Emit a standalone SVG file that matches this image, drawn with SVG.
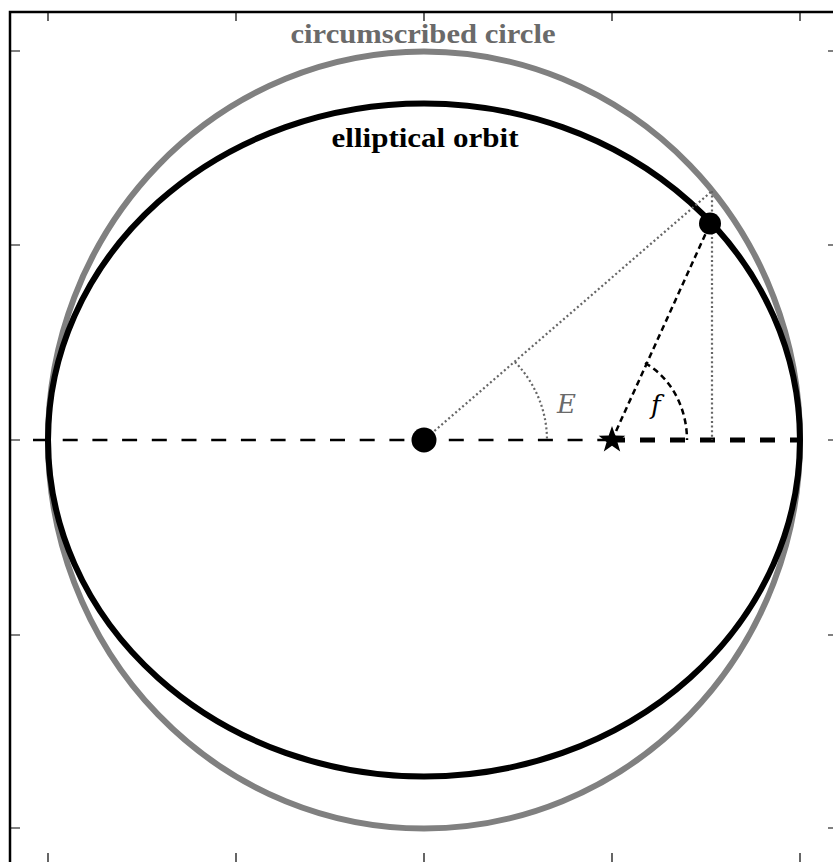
<svg xmlns="http://www.w3.org/2000/svg" width="833" height="862" viewBox="0 0 833 862">
<style>
.frame{fill:none;stroke:#000;stroke-width:2.5}
.tick{stroke:#000;stroke-width:1.2}
.circ{fill:none;stroke:#808080;stroke-width:6}
.orbit{fill:none;stroke:#000;stroke-width:6}
.axis{fill:none;stroke:#000;stroke-width:2.5;stroke-dasharray:15 14.7}
.axisthick{fill:none;stroke:#000;stroke-width:5;stroke-dasharray:15 15}
.dot{fill:none;stroke:#666;stroke-width:2.2;stroke-dasharray:2 2.6}
.dash{fill:none;stroke:#000;stroke-width:2.5;stroke-dasharray:6 4}
.lbl{font-family:"Liberation Serif","DejaVu Serif",serif;font-weight:bold;font-size:28px;text-anchor:middle}
.math{font-family:"DejaVu Serif","Liberation Serif",serif;font-style:italic;font-size:26px}
</style>
<rect class="frame" x="10" y="12" width="900" height="900"/>
<g id="ticks">
<path class="tick" d="M48 12V21M236 12V21M424 12V21M612 12V21M800 12V21"/>
<path class="tick" d="M48 862V853M236 862V853M424 862V853M612 862V853M800 862V853"/>
<path class="tick" d="M10 51H20M10 245H20M10 440H20M10 635H20M10 828H20"/>
<path class="tick" d="M833 51H828M833 245H828M833 440H828M833 635H828M833 828H828"/>
</g>
<g id="circumscribed-circle">
<ellipse class="circ" cx="424" cy="440" rx="376" ry="388.5"/>
</g>
<g id="elliptical-orbit">
<ellipse class="orbit" cx="424" cy="440" rx="376" ry="336.5"/>
</g>
<g id="connectors">
<line class="axis" x1="33" y1="440" x2="612" y2="440"/>
<line class="axisthick" x1="610" y1="440" x2="802" y2="440"/>
<line class="dot" x1="424" y1="440" x2="712" y2="191"/>
<line class="dot" x1="712" y1="191" x2="712" y2="440"/>
<path class="dot" d="M515 362A123 116 0 0 1 547 440"/>
<line class="dash" x1="612" y1="440" x2="710" y2="224"/>
<path class="dash" d="M645 363A75 86 0 0 1 687 440"/>
</g>
<g id="center">
<circle cx="424" cy="440" r="12.5" fill="#000"/>
</g>
<g id="planet">
<circle cx="710" cy="223.5" r="11" fill="#000"/>
</g>
<g id="focus-star">
<polygon fill="#000" points="612,426 615.3,435.4 625.3,435.7 617.4,441.9 620.2,451.5 612,445.8 603.8,451.5 606.6,441.9 598.7,435.7 608.7,435.4"/>
</g>
<g id="labels">
<text class="lbl" x="423" y="43" fill="#6a6a6a" textLength="265" lengthAdjust="spacingAndGlyphs">circumscribed circle</text>
<text class="lbl" x="425" y="147" fill="#000" textLength="187" lengthAdjust="spacingAndGlyphs">elliptical orbit</text>
<text class="math" x="557" y="413" fill="#6a6a6a">E</text>
<text class="math" x="651" y="414" fill="#000">f</text>
</g>
</svg>
